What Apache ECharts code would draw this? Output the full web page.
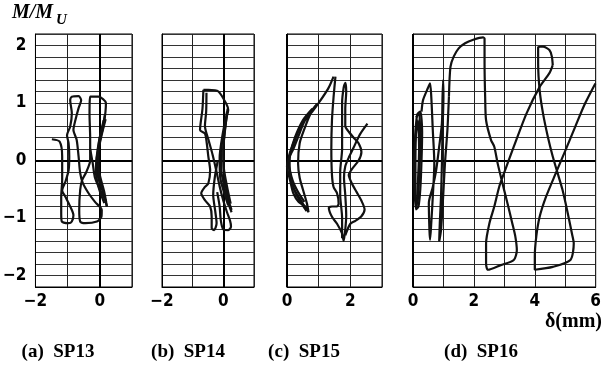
<!DOCTYPE html>
<html>
<head>
<meta charset="utf-8">
<script src="https://cdn.jsdelivr.net/npm/echarts@6/dist/echarts.min.js"></script>
<style>
html, body { margin: 0; padding: 0; background: #fff; }
#chart { width: 604px; height: 374px; }
</style>
</head>
<body>
<div id="chart"></div>
<script>
// axis ranges of the four panels
var xRanges = [[-2, 1], [-2, 1], [0, 3], [0, 6]]
var yRange = [-2.2, 2.2]
var captions = ['(a)  SP13', '(b)  SP14', '(c)  SP15', '(d)  SP16']

// SP13 : delta (mm), M/Mu
var sp13Loop = [[-1.49, 0.37], [-1.25, 0.33], [-1.17, 0.07], [-1.17, -0.34], [-1.2, -0.63], [-1.2, -0.92], [-1.18, -1.06], [-0.97, -1.09], [-0.87, -1.06], [-0.82, -0.95], [-0.92, -0.8], [-1.07, -0.63], [-1.17, -0.52], [-1.07, -0.37], [-0.97, -0.17], [-0.95, 0.07], [-0.97, 0.3], [-1.02, 0.44], [-0.92, 0.59], [-0.87, 0.82], [-0.92, 1.05], [-0.87, 1.11], [-0.66, 1.12], [-0.58, 1.05], [-0.66, 0.91], [-0.76, 0.7], [-0.82, 0.53], [-0.72, 0.36], [-0.66, 0.07], [-0.61, -0.22], [-0.53, -0.39], [-0.35, -0.57], [-0.15, -0.72], [0.06, -0.86], [0.05, -0.98], [-0.09, -1.06], [-0.45, -1.09], [-0.61, -1.06], [-0.64, -0.86], [-0.61, -0.51], [-0.55, -0.34], [-0.42, -0.2], [-0.3, 0.0], [-0.3, 0.4], [-0.32, 0.8], [-0.3, 1.11], [-0.04, 1.11], [0.19, 1.0], [0.13, 0.65], [0.01, 0.36], [-0.1, 0.0], [-0.05, -0.3], [0.1, -0.55], [0.22, -0.8]]
var sp13Core1 = [[0.22, -0.8], [0.14, -0.55], [0.0, -0.25], [-0.06, 0.05], [-0.02, 0.35], [0.1, 0.62], [0.16, 0.8]]
var sp13Core2 = [[0.18, 0.72], [0.06, 0.45], [-0.04, 0.15], [-0.04, -0.15], [0.06, -0.45], [0.18, -0.7]]
var sp13Core3 = [[0.12, 0.7], [-0.02, 0.35], [-0.1, 0.05], [-0.12, -0.2], [-0.02, -0.5], [0.14, -0.74]]
var sp13Core4 = [[-0.3, 0.2], [-0.22, -0.05], [-0.15, -0.3], [0.0, -0.5], [0.2, -0.72]]

// SP14
var sp14Outer = [[-0.65, 1.23], [-0.49, 1.23], [-0.16, 1.2], [0.11, 0.97], [0.16, 0.88], [0.11, 0.76], [0.05, 0.53], [0.0, 0.2], [0.02, -0.2], [0.1, -0.5], [0.2, -0.75], [0.27, -0.86]]
var sp14Left = [[-0.65, 1.23], [-0.68, 0.9], [-0.76, 0.53], [-0.6, 0.47], [-0.54, 0.3], [-0.49, 0.07], [-0.43, -0.17], [-0.49, -0.4], [-0.6, -0.46], [-0.72, -0.57], [-0.6, -0.69], [-0.43, -0.8], [-0.38, -0.98], [-0.38, -1.18], [-0.3, -1.21], [-0.22, -1.09], [-0.27, -0.86], [-0.33, -0.6], [-0.28, -0.3], [-0.18, 0.0]]
var sp14Inner = [[-0.55, 1.18], [-0.56, 0.85], [-0.6, 0.6], [-0.48, 0.35], [-0.35, 0.1], [-0.22, -0.2], [-0.12, -0.45], [0.0, -0.7], [0.12, -0.9], [0.22, -1.05], [0.25, -1.15], [0.16, -1.21], [0.0, -1.2], [-0.08, -1.05], [-0.12, -0.8], [-0.2, -0.55]]
var sp14Core1 = [[0.12, 0.85], [0.02, 0.5], [-0.08, 0.15], [-0.06, -0.2], [0.05, -0.5], [0.2, -0.8], [0.27, -0.9]]
var sp14Core2 = [[0.08, 0.75], [-0.04, 0.4], [-0.12, 0.05], [-0.1, -0.3], [0.02, -0.55], [0.16, -0.78]]
var sp14Core3 = [[0.14, 0.9], [0.06, 0.55], [0.0, 0.2], [0.02, -0.15], [0.12, -0.45], [0.24, -0.75]]

// SP15
var sp15Arc1 = [[1.47, 1.46], [1.3, 1.25], [1.0, 1.0], [0.8, 0.85], [0.55, 0.68], [0.38, 0.45], [0.2, 0.2], [0.05, 0.03], [0.0, -0.1], [0.1, -0.35], [0.2, -0.57], [0.37, -0.72], [0.58, -0.8], [0.68, -0.9], [0.63, -0.75], [0.5, -0.5], [0.4, -0.3], [0.35, -0.05], [0.4, 0.3], [0.55, 0.55], [0.75, 0.82], [0.95, 0.99]]
var sp15Arc2 = [[0.9, 0.95], [0.6, 0.75], [0.35, 0.5], [0.15, 0.2], [0.05, 0.0], [0.1, -0.25], [0.22, -0.5], [0.45, -0.7], [0.6, -0.85]]
var sp15Arc3 = [[0.8, 0.9], [0.5, 0.7], [0.25, 0.4], [0.1, 0.1], [0.08, -0.1], [0.18, -0.35], [0.35, -0.55], [0.55, -0.72]]
var sp15Arc4 = [[0.7, 0.82], [0.42, 0.58], [0.2, 0.3], [0.06, 0.05], [0.12, -0.3], [0.3, -0.6], [0.5, -0.78], [0.62, -0.88]]
var sp15Right = [[1.53, 1.46], [1.47, 1.1], [1.42, 0.7], [1.4, 0.2], [1.42, -0.25], [1.47, -0.46], [1.58, -0.57], [1.63, -0.75], [1.58, -0.8], [1.42, -0.8], [1.32, -0.82], [1.42, -0.98], [1.58, -1.1], [1.74, -1.27], [1.79, -1.4], [1.84, -1.2], [1.87, -0.95], [1.84, -0.6], [1.8, -0.3], [1.84, -0.1], [1.95, 0.05], [2.1, 0.22], [2.3, 0.45], [2.54, 0.64]]
var sp15Narrow = [[1.74, -1.35], [1.74, -1.0], [1.68, -0.6], [1.68, -0.2], [1.74, 0.2], [1.74, 0.6], [1.74, 1.0], [1.79, 1.27], [1.84, 1.35], [1.87, 1.2], [1.84, 0.9], [1.84, 0.6], [1.95, 0.5], [2.1, 0.4], [2.26, 0.3], [2.35, 0.15], [2.26, 0.0], [2.05, -0.15], [1.95, -0.25], [2.05, -0.4], [2.2, -0.55], [2.35, -0.7], [2.45, -0.85], [2.35, -0.97], [2.16, -1.05], [2.0, -1.1], [1.84, -1.3]]

// SP16
var sp16Small1 = [[0.04, 0.0], [0.08, 0.5], [0.14, 0.8], [0.24, 0.85], [0.3, 0.5], [0.28, 0.0], [0.24, -0.5], [0.18, -0.8], [0.1, -0.85], [0.05, -0.5], [0.03, 0.0]]
var sp16Small2 = [[0.1, 0.75], [0.2, 0.82], [0.24, 0.3], [0.2, -0.3], [0.15, -0.75], [0.08, -0.6], [0.08, 0.0], [0.1, 0.6]]
var sp16Small3 = [[0.06, 0.3], [0.16, 0.7], [0.2, 0.2], [0.16, -0.4], [0.12, -0.8]]
var sp16Cycle1 = [[0.28, 0.85], [0.33, 1.05], [0.49, 1.26], [0.56, 1.34], [0.6, 1.11], [0.65, 0.53], [0.7, -0.05], [0.65, -0.63], [0.6, -1.09], [0.56, -1.38], [0.54, -1.21], [0.52, -0.74], [0.65, -0.46], [0.76, -0.17], [0.86, 0.24], [0.95, 0.65], [0.97, 1.11], [0.99, 1.4], [1.0, 1.11], [0.97, 0.53], [0.95, -0.05], [0.92, -0.63], [0.88, -1.09], [0.86, -1.41], [0.92, -1.21], [0.99, -0.63], [1.05, -0.05], [1.13, 0.53], [1.18, 1.11]]
var sp16Cycle2 = [[1.18, 1.11], [1.23, 1.63], [1.34, 1.81], [1.5, 1.95], [1.71, 2.04], [1.98, 2.1], [2.3, 2.14], [2.35, 2.12], [2.35, 1.69], [2.37, 1.11], [2.4, 0.7], [2.56, 0.36], [2.67, 0.24], [2.78, -0.05], [2.94, -0.4], [3.1, -0.74], [3.26, -1.09], [3.36, -1.32], [3.41, -1.56], [3.31, -1.73], [2.88, -1.82], [2.46, -1.9], [2.4, -1.79], [2.4, -1.44], [2.51, -1.09], [2.67, -0.8], [2.83, -0.46], [2.99, -0.22], [3.31, 0.24], [3.73, 0.82], [4.16, 1.28], [4.48, 1.52], [4.59, 1.66]]
var sp16Cycle3 = [[4.59, 1.66], [4.56, 1.81], [4.48, 1.92], [4.27, 1.98], [4.11, 1.97], [4.11, 1.69], [4.16, 1.22], [4.27, 0.82], [4.43, 0.41], [4.59, 0.07], [4.75, -0.22], [4.91, -0.51], [5.06, -0.86], [5.22, -1.27], [5.28, -1.44], [5.17, -1.73], [4.59, -1.85], [4.0, -1.9], [4.0, -1.67], [4.05, -1.32], [4.16, -0.98], [4.37, -0.63], [4.69, -0.22], [5.01, 0.18], [5.33, 0.59], [5.65, 0.99], [5.99, 1.34]]

var panels = [
  [sp13Loop, sp13Core1, sp13Core2, sp13Core3, sp13Core4],
  [sp14Outer, sp14Left, sp14Inner, sp14Core1, sp14Core2, sp14Core3],
  [sp15Arc1, sp15Arc2, sp15Arc3, sp15Arc4, sp15Right, sp15Narrow],
  [sp16Small1, sp16Small2, sp16Small3, sp16Cycle1, sp16Cycle2, sp16Cycle3]
]

var gridBoxes = [
  { left: 35, width: 97 },
  { left: 162, width: 92 },
  { left: 287, width: 95 },
  { left: 413, width: 188 }
]
var tickFont = "'Liberation Sans Narrow', 'DejaVu Sans Condensed', Arial, sans-serif"
var serif = "'Liberation Serif', 'DejaVu Serif', serif"

function fmt (v) {
  if (v < 0) return '\u2212' + Math.abs(v)
  return '' + v
}

var myChart = echarts.init(document.getElementById('chart'))
var grids = []
var xAxes = []
var yAxes = []
var series = []

gridBoxes.forEach(function (g, i) {
  grids.push({ left: g.left, width: g.width, top: 34, height: 253, show: true, borderColor: '#000', borderWidth: 1, backgroundColor: 'transparent' })
  xAxes.push({
    type: 'value', gridIndex: i, min: xRanges[i][0], max: xRanges[i][1], interval: 1,
    axisLine: { show: true, onZero: false, lineStyle: { color: '#000', width: 1 } },
    axisTick: { show: false },
    splitLine: { show: true, lineStyle: { color: '#222', width: 1 } },
    axisLabel: {
      margin: 6, fontSize: 17, fontWeight: 'bold', fontFamily: tickFont, color: '#000',
      formatter: function (v) { return Math.abs(v % 2) < 1e-6 ? fmt(v) : '' }
    }
  })
  yAxes.push({
    type: 'value', gridIndex: i, min: yRange[0], max: yRange[1], interval: 0.2,
    axisLine: { show: true, onZero: false, lineStyle: { color: '#000', width: 1 } },
    axisTick: { show: false },
    splitLine: { show: true, lineStyle: { color: '#333', width: 1 } },
    axisLabel: {
      show: i === 0, margin: 9, fontSize: 17, fontWeight: 'bold', fontFamily: tickFont, color: '#000',
      formatter: function (v) { return Math.abs(v - Math.round(v)) < 1e-6 ? fmt(Math.round(v)) : '' }
    }
  })
  // thick zero lines
  series.push({
    type: 'line', xAxisIndex: i, yAxisIndex: i, data: [], silent: true,
    markLine: { silent: true, symbol: 'none', animation: false, label: { show: false },
      lineStyle: { color: '#000', width: 2, type: 'solid' },
      data: [{ xAxis: 0 }, { yAxis: 0 }] }
  })
  panels[i].forEach(function (path) {
    series.push({
      type: 'line', xAxisIndex: i, yAxisIndex: i, data: path, showSymbol: false, smooth: 0.25,
      silent: true, z: 5, lineStyle: { color: '#111', width: 2.2 }
    })
  })
})

var captionX = [58, 188, 304, 481]
var graphics = [
  { type: 'text', left: 12, top: 3, style: { text: 'M/M', fontSize: 20, fontStyle: 'italic', fontWeight: 'bold', fontFamily: serif, fill: '#000' } },
  { type: 'text', left: 56, top: 13, style: { text: 'U', fontSize: 15, fontStyle: 'italic', fontWeight: 'bold', fontFamily: serif, fill: '#000' } },
  { type: 'text', right: 2, top: 312, style: { text: '\u03b4(mm)', fontSize: 20, fontWeight: 'bold', fontFamily: serif, fill: '#000' } }
]
captions.forEach(function (c, i) {
  graphics.push({ type: 'text', x: captionX[i], y: 352, style: { text: c, fontSize: 19, fontWeight: 'bold', fontFamily: serif, fill: '#000', align: 'center', verticalAlign: 'middle' } })
})

var option = {
  backgroundColor: '#fff',
  animation: false,
  grid: grids,
  xAxis: xAxes,
  yAxis: yAxes,
  series: series,
  graphic: graphics
}
myChart.setOption(option)
window.addEventListener('resize', function () {
  myChart.resize()
})
</script>
</body>
</html>
